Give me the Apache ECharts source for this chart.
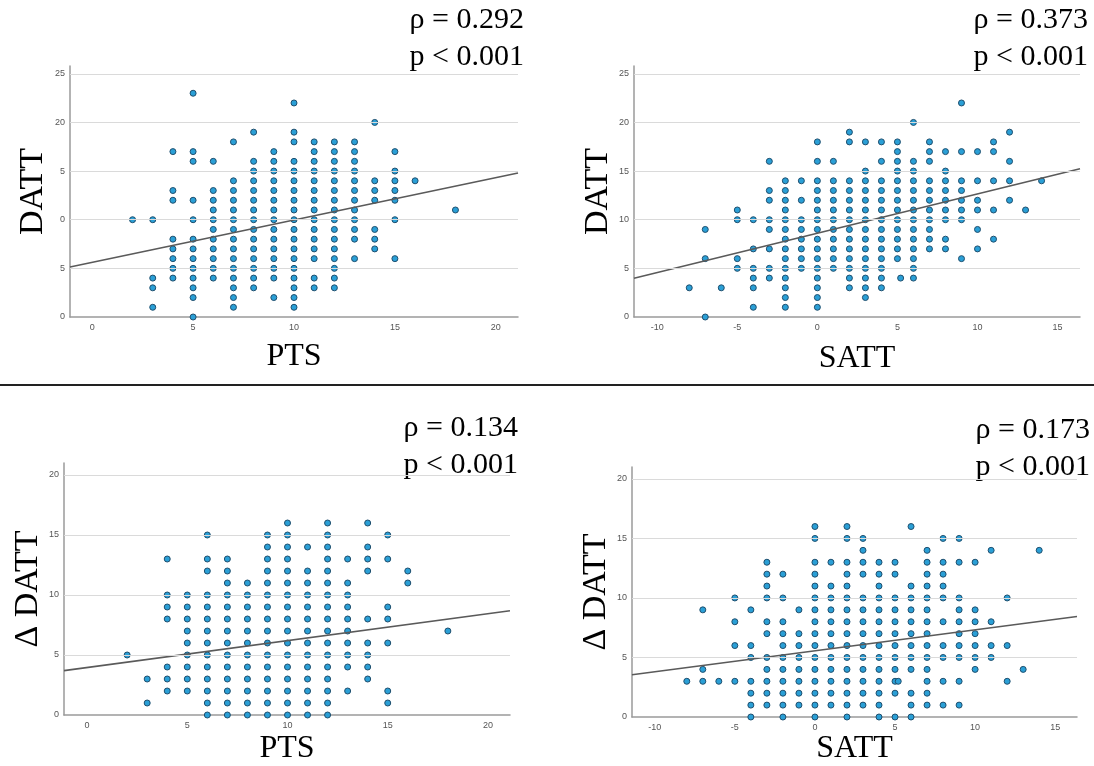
<!DOCTYPE html>
<html>
  <head>
    <meta charset="utf-8" />
    <title>DATT scatter</title>
    <script src="https://cdn.jsdelivr.net/npm/echarts@6/dist/echarts.min.js"></script>
    <style>
      html, body { margin: 0; padding: 0; background: #fff; }
      #main { width: 1094px; height: 766px; }
    </style>
  </head>
  <body>
    <div id="main"></div>
    <script type="text/javascript">
// points: [x, [y values at that x]]
// PTS vs DATT
let ptsDatt = [
  [2, [10]],
  [3, [10, 4, 3, 1]],
  [4, [17, 13, 12, 8, 7, 6, 5, 4]],
  [5, [23, 17, 16, 12, 10, 8, 7, 6, 5, 4, 3, 2, 0]],
  [6, [16, 13, 12, 11, 10, 9, 8, 7, 6, 5, 4]],
  [7, [18, 14, 13, 12, 11, 10, 9, 8, 7, 6, 5, 4, 3, 2, 1]],
  [8, [19, 16, 15, 14, 13, 12, 11, 10, 9, 8, 7, 6, 5, 4, 3]],
  [9, [17, 16, 15, 14, 13, 12, 11, 10, 9, 8, 7, 6, 5, 4, 2]],
  [10, [22, 19, 18, 16, 15, 14, 13, 12, 11, 10, 9, 8, 7, 6, 5, 4, 3, 2, 1]],
  [11, [18, 17, 16, 15, 14, 13, 12, 11, 10, 9, 8, 7, 6, 4, 3]],
  [12, [18, 17, 16, 15, 14, 13, 12, 11, 10, 9, 8, 7, 6, 5, 4, 3]],
  [13, [18, 17, 16, 15, 14, 13, 12, 11, 10, 9, 8, 6]],
  [14, [20, 14, 13, 12, 9, 8, 7]],
  [15, [17, 15, 14, 13, 12, 10, 6]],
  [16, [14]],
  [18, [11]]
];
// SATT vs DATT
let sattDatt = [
  [-8, [3]],
  [-7, [9, 6, 0]],
  [-6, [3]],
  [-5, [11, 10, 6, 5]],
  [-4, [10, 7, 5, 4, 3, 1]],
  [-3, [16, 13, 12, 10, 9, 7, 5, 4]],
  [-2, [14, 13, 12, 11, 10, 9, 8, 7, 6, 5, 4, 3, 2, 1]],
  [-1, [14, 12, 10, 9, 8, 7, 6, 5]],
  [0, [18, 16, 14, 13, 12, 11, 10, 9, 8, 7, 6, 5, 4, 3, 2, 1]],
  [1, [16, 14, 13, 12, 11, 10, 9, 8, 7, 6, 5]],
  [2, [19, 18, 14, 13, 12, 11, 10, 9, 8, 7, 6, 5, 4, 3]],
  [3, [18, 15, 14, 13, 12, 11, 10, 9, 8, 7, 6, 5, 4, 3, 2]],
  [4, [18, 16, 14, 13, 12, 11, 10, 9, 8, 7, 6, 5, 4, 3]],
  [5, [18, 17, 16, 15, 14, 13, 12, 11, 10, 9, 8, 7, 6]],
  [5.2, [4]],
  [6, [20, 16, 15, 14, 13, 12, 11, 10, 9, 8, 7, 6, 5, 4]],
  [7, [18, 17, 16, 14, 13, 12, 11, 10, 9, 8, 7]],
  [8, [17, 15, 14, 13, 12, 11, 10, 8, 7]],
  [9, [22, 17, 14, 13, 12, 11, 10, 6]],
  [10, [17, 14, 12, 11, 9, 7]],
  [11, [18, 17, 14, 11, 8]],
  [12, [19, 16, 14, 12]],
  [13, [11]],
  [14, [14]]
];
// PTS vs delta DATT
let ptsDelta = [
  [2, [5]],
  [3, [3, 1]],
  [4, [13, 10, 9, 8, 4, 3, 2]],
  [5, [10, 9, 8, 7, 6, 5, 4, 3, 2]],
  [6, [15, 13, 12, 10, 9, 8, 7, 6, 5, 4, 3, 2, 1, 0]],
  [7, [13, 12, 11, 10, 9, 8, 7, 6, 5, 4, 3, 2, 1, 0]],
  [8, [11, 10, 9, 8, 7, 6, 5, 4, 3, 2, 1, 0]],
  [9, [15, 14, 13, 12, 11, 10, 9, 8, 7, 6, 5, 4, 3, 2, 1, 0]],
  [10, [16, 15, 14, 13, 12, 11, 10, 9, 8, 7, 6, 5, 4, 3, 2, 1, 0]],
  [11, [14, 12, 11, 10, 9, 8, 7, 6, 5, 4, 3, 2, 1, 0]],
  [12, [16, 15, 14, 13, 12, 11, 10, 9, 8, 7, 6, 5, 4, 3, 2, 1, 0]],
  [13, [13, 11, 10, 9, 8, 7, 6, 5, 4, 2]],
  [14, [16, 14, 13, 12, 8, 6, 5, 4, 3]],
  [15, [15, 13, 9, 8, 6, 2, 1]],
  [16, [12, 11]],
  [18, [7]]
];
// SATT vs delta DATT
let sattDelta = [
  [-8, [3]],
  [-7, [9, 4, 3]],
  [-6, [3]],
  [-5, [10, 8, 6, 3]],
  [-4, [9, 6, 5, 3, 2, 1, 0]],
  [-3, [13, 12, 11, 10, 8, 7, 5, 4, 3, 2, 1]],
  [-2, [12, 10, 8, 7, 6, 5, 4, 3, 2, 1, 0]],
  [-1, [9, 7, 6, 5, 4, 3, 2, 1]],
  [0, [16, 15, 13, 12, 11, 10, 9, 8, 7, 6, 5, 4, 3, 2, 1, 0]],
  [1, [13, 11, 10, 9, 8, 7, 6, 5, 4, 3, 2, 1]],
  [2, [16, 15, 13, 12, 11, 10, 9, 8, 7, 6, 5, 4, 3, 2, 1, 0]],
  [3, [15, 14, 13, 12, 10, 9, 8, 7, 6, 5, 4, 3, 2, 1]],
  [4, [13, 12, 11, 10, 9, 8, 7, 6, 5, 4, 3, 2, 1, 0]],
  [5, [13, 12, 10, 9, 8, 7, 6, 5, 4, 3, 2, 0]],
  [5.2, [3]],
  [6, [16, 11, 10, 9, 8, 7, 6, 5, 4, 2, 1, 0]],
  [7, [14, 13, 12, 11, 10, 9, 8, 7, 6, 5, 4, 3, 2, 1]],
  [8, [15, 13, 12, 11, 10, 8, 6, 5, 3, 1]],
  [9, [15, 13, 10, 9, 8, 7, 6, 5, 3, 1]],
  [10, [13, 9, 8, 7, 6, 5, 4]],
  [11, [14, 8, 6, 5]],
  [12, [10, 6, 3]],
  [13, [4]],
  [14, [14]]
];

// fit line end points
let fitPtsDatt = [[-1.1, 5.13], [21.1, 14.81]];
let fitSattDatt = [[-11.45, 3.99], [16.4, 15.23]];
let fitPtsDelta = [[-1.15, 3.7], [21.1, 8.69]];
let fitSattDelta = [[-11.42, 3.55], [16.36, 8.44]];

let ptsTicks = [0, 5, 10, 15, 20];
let sattTicks = [-10, -5, 0, 5, 10, 15];
let dattTicks = [0, 5, 10, 15, 20, 25];
let deltaTicks = [0, 5, 10, 15, 20];
// the first panel's y labels are cut off in the original
let dattLabelsCut = ['0', '5', '0', '5', '20', '25'];

let stats = [
  ['ρ = 0.292', 'p < 0.001'],
  ['ρ = 0.373', 'p < 0.001'],
  ['ρ = 0.134', 'p < 0.001'],
  ['ρ = 0.173', 'p < 0.001']
];

function flatten(cols) {
  let out = [];
  cols.forEach(function (c) {
    c[1].forEach(function (y) { out.push([c[0], y]); });
  });
  return out;
}

var serif = "'Liberation Serif', 'DejaVu Serif', serif";
var sans = "'Liberation Sans', Arial, sans-serif";

var grids = [
  { left: 70, top: 66, width: 448, height: 251 },
  { left: 634, top: 66, width: 446, height: 251 },
  { left: 64, top: 463, width: 446, height: 254 },
  { left: 632, top: 467, width: 445, height: 253 }
];

function xAxisOf(i, min, max, ticks, name, gap) {
  return {
    type: 'value', gridIndex: i, min: min, max: max,
    name: name, nameLocation: 'middle', nameGap: gap,
    nameTextStyle: { fontFamily: serif, fontSize: 32, color: '#000' },
    axisLine: { show: true, onZero: false, lineStyle: { color: '#9a9a9a', width: 1.5 } },
    axisTick: { show: false },
    splitLine: { show: false },
    axisLabel: { customValues: ticks, fontSize: 9, color: '#555', fontFamily: sans, margin: 6 }
  };
}

function yAxisOf(i, max, ticks, name, gap, labels) {
  return {
    type: 'value', gridIndex: i, min: 0, max: max,
    name: name, nameLocation: 'middle', nameGap: gap, nameRotate: 90,
    nameTextStyle: { fontFamily: serif, fontSize: 34, color: '#000' },
    axisLine: { show: true, onZero: false, lineStyle: { color: '#9a9a9a', width: 1.5 } },
    axisTick: { show: false },
    splitLine: { show: false },
    axisLabel: {
      customValues: ticks, fontSize: 9, color: '#555', fontFamily: sans, margin: 5,
      formatter: function (v) { return labels ? labels[Math.round(v / 5)] : String(v); }
    }
  };
}

function scatterOf(i, cols, ticks) {
  return {
    type: 'scatter', xAxisIndex: i, yAxisIndex: i,
    data: flatten(cols), symbolSize: 6, clip: false,
    itemStyle: { color: '#2a9fd6', borderColor: '#1f4f6e', borderWidth: 1, opacity: 1 },
    markLine: {
      silent: true, symbol: 'none', label: { show: false }, animation: false,
      lineStyle: { color: '#dadada', width: 1.2, type: 'solid' },
      data: ticks.filter(function (t) { return t > 0; }).map(function (t) { return { yAxis: t }; })
    },
    z: 2
  };
}

function fitOf(i, pts) {
  return {
    type: 'line', xAxisIndex: i, yAxisIndex: i, data: pts,
    showSymbol: false, symbol: 'none', silent: true,
    lineStyle: { color: '#5a5a5a', width: 1.6 }, z: 3
  };
}

function statText(right, top, lines) {
  return {
    type: 'text', right: right, top: top,
    style: { text: lines.join('\n'), font: '30px ' + serif, fill: '#000', lineHeight: 37, align: 'right' }
  };
}

var myChart = echarts.init(document.getElementById('main'));
var option = {
  animation: false,
  backgroundColor: '#fff',
  grid: grids,
  xAxis: [
    xAxisOf(0, -1.1, 21.1, ptsTicks, 'PTS', 24),
    xAxisOf(1, -11.45, 16.4, sattTicks, 'SATT', 26),
    xAxisOf(2, -1.15, 21.1, ptsTicks, 'PTS', 18),
    xAxisOf(3, -11.42, 16.36, sattTicks, 'SATT', 16)
  ],
  yAxis: [
    yAxisOf(0, 25.8, dattTicks, 'DATT', 20, dattLabelsCut),
    yAxisOf(1, 25.8, dattTicks, 'DATT', 16),
    yAxisOf(2, 21, deltaTicks, 'Δ DATT', 18),
    yAxisOf(3, 21, deltaTicks, 'Δ DATT', 16)
  ],
  series: [
    scatterOf(0, ptsDatt, dattTicks),
    scatterOf(1, sattDatt, dattTicks),
    scatterOf(2, ptsDelta, deltaTicks),
    scatterOf(3, sattDelta, deltaTicks),
    fitOf(0, fitPtsDatt),
    fitOf(1, fitSattDatt),
    fitOf(2, fitPtsDelta),
    fitOf(3, fitSattDelta)
  ],
  graphic: [
    statText(570, 2, stats[0]),
    statText(6, 2, stats[1]),
    statText(576, 410, stats[2]),
    statText(4, 412, stats[3]),
    {
      type: 'line', shape: { x1: 0, y1: 385, x2: 1094, y2: 385 },
      style: { stroke: '#222', lineWidth: 2 }
    }
  ]
};
myChart.setOption(option);
    </script>
  </body>
</html>
